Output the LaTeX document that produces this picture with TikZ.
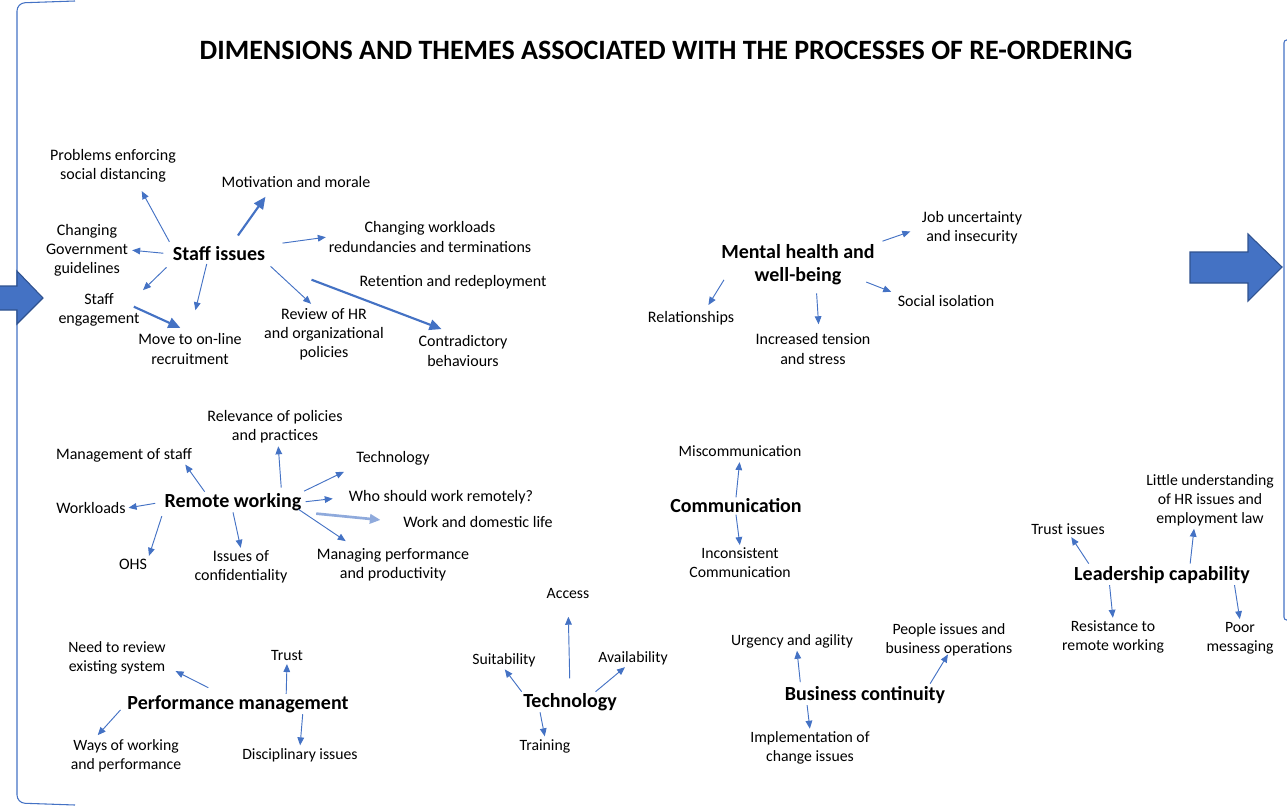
\documentclass[tikz,border=0pt]{standalone}
\usepackage{fontspec}
\setmainfont{Carlito}
\usetikzlibrary{arrows.meta}
\definecolor{officeblue}{RGB}{68,114,196}
\definecolor{darkblue}{RGB}{47,82,143}
\definecolor{paleblue}{RGB}{143,170,220}

\begin{document}
\begin{tikzpicture}[x=0.75pt,y=-0.75pt,
  theme/.style={font=\fontsize{15}{17}\selectfont\bfseries, align=center, inner sep=1pt},
  item/.style={font=\fontsize{12}{14.3}\selectfont, align=center, inner sep=1pt},
  minor/.style={font=\fontsize{11.8}{14.3}\selectfont, align=center, inner sep=1pt},
  link/.style={draw=paleblue, line width=0.7pt, -{Triangle[length=6pt,width=5pt]}, officeblue},
  biglink/.style={draw=officeblue, line width=1.6pt, -{Triangle[length=9pt,width=8pt]}},
  blockarrow/.style={fill=officeblue, draw=darkblue, line width=0.8pt},
  bracket/.style={draw=officeblue, line width=0.8pt, rounded corners=6pt}]

\useasboundingbox (0,0) rectangle (1287,806);

% outer brackets and block arrows
\draw[bracket] (75,1) -- (17,3) -- (17,803) -- (75,805);
\draw[bracket, rounded corners=2pt] (1287,40) -- (1284,40) -- (1284,620) -- (1287,620);
\draw[blockarrow] (-2,286) -- (17,286) -- (17,271) -- (43,298) -- (17,324) -- (17,310) -- (-2,310) -- cycle;
\draw[blockarrow] (1190,252) -- (1248,252) -- (1248,234) -- (1282,267) -- (1248,301) -- (1248,283) -- (1190,283) -- cycle;

\node[font=\fontsize{21}{24}\selectfont\bfseries] (title) at (666,50)
  {DIMENSIONS AND THEMES ASSOCIATED WITH THE PROCESSES OF RE-ORDERING};

% staff issues
\node[theme] (staff) at (219,254) {Staff issues};
\node[item] (probl) at (113,166) {Problems enforcing\\social distancing};
\node[item] (motiv) at (296,182) {Motivation and morale};
\node[item] (gov) at (87,250) {Changing\\Government\\guidelines};
\node[item] (workl) at (430,237) {Changing workloads\\redundancies and terminations};
\node[item] (reten) at (453,282) {Retention and redeployment};
\node[item] (engag) at (99,310) {Staff\\engagement};
\node[item] (move) at (190,349) {Move to on-line\\recruitment};
\node[item] (review) at (324,334) {Review of HR\\and organizational\\policies};
\node[item] (contra) at (463,351) {Contradictory\\behaviours};

\draw[link, shorten <=3pt, shorten >=6pt] (staff.north west) -- (probl.-36);
\draw[biglink, shorten <=9pt, shorten >=7pt] (staff.36) -- (motiv.196);
\draw[link, shorten <=6pt, shorten >=2pt] (staff.west) -- (gov.east);
\draw[link, shorten <=12pt, shorten >=1pt] (staff.north east) -- (workl.west);
\draw[link, shorten <=5pt, shorten >=2pt] (staff.south west) -- (engag.north east);
\draw[link, shorten <=1pt, shorten >=17pt] (staff.216) -- (move.north);
\draw[link, shorten <=4pt, shorten >=3pt] (staff.south east) -- (review.110);
\draw[biglink, shorten <=36pt, shorten >=11pt] (staff.south east) -- (contra.115);
\draw[biglink, shorten <=-6pt, shorten >=8pt] (engag.east) -- (move.north);

% mental health
\node[theme] (mind) at (798,265) {Mental health and\\well-being};
\node[item] (job) at (972,228) {Job uncertainty\\and insecurity};
\node[item] (relat) at (691,318) {Relationships};
\node[item] (isol) at (946,301) {Social isolation};
\node[item] (tens) at (813,349) {Increased tension\\and stress};

\draw[link, shorten <=5pt, shorten >=8pt] (mind.north east) -- (job.west);
\draw[link, shorten <=-6pt, shorten >=4pt] (mind.south west) -- (relat.30);
\draw[link, shorten <=5pt, shorten >=6pt] (mind.-50) -- (tens.70);
\draw[link, shorten <=-8pt, shorten >=4pt] (mind.-15) -- (isol.north west);

% remote working
\node[theme] (remote) at (233,502) {Remote working};
\node[item] (relev) at (275,427) {Relevance of policies\\and practices};
\node[item] (mgmt) at (124,455) {Management of staff};
\node[item] (techno) at (393,458) {Technology};
\node[item] (wload) at (91,508) {Workloads};
\node[item] (who) at (441,497) {Who should work remotely?};
\node[item] (domes) at (478,522) {Work and domestic life};
\node[item] (ohs) at (133,564) {OHS};
\node[item] (conf) at (241,567) {Issues of\\confidentiality};
\node[item] (prod) at (393,565) {Managing performance\\and productivity};

\draw[link, shorten >=1pt] (remote.160) -- (mgmt.-8);
\draw[link, shorten <=3pt, shorten >=1pt] (remote.12) -- (relev.-80);
\draw[link, shorten <=1pt, shorten >=9pt] (remote.north east) -- (techno.south west);
\draw[link, shorten <=2pt, shorten >=11pt] (remote.east) -- (who.west);
\draw[paleblue, line width=2pt, -{Triangle[length=8pt,width=7pt]}, shorten <=10pt, shorten >=16pt] (remote.south east) -- (domes.west);
\draw[link, shorten <=-4pt, shorten >=8pt] (remote.south east) -- (prod.155);
\draw[link, shorten >=1pt] (remote.south) -- (conf.north);
\draw[link, shorten <=3pt, shorten >=1pt] (remote.south west) -- (ohs.north east);
\draw[link, shorten <=6pt, shorten >=1pt] (remote.west) -- (wload.east);

% communication
\node[theme] (comm) at (736,506) {Communication};
\node[minor] (miscomm) at (740,451) {Miscommunication};
\node[minor] (incons) at (740,563) {Inconsistent\\Communication};

\draw[link, shorten >=3pt] (comm.north) -- (miscomm.south);
\draw[link, shorten >=1pt] (comm.south) -- (incons.north);

% leadership
\node[theme] (lead) at (1162,575) {Leadership capability};
\node[minor] (trusti) at (1068,529) {Trust issues};
\node[minor] (little) at (1210,500) {Little understanding\\of HR issues and\\employment law};
\node[minor] (resist) at (1113,637) {Resistance to\\remote working};
\node[minor] (poor) at (1240,638) {Poor\\messaging};

\draw[link, shorten <=1pt, shorten >=1pt] (lead.172) -- (trusti.-70);
\draw[link, shorten <=1pt, shorten >=1pt] (lead.20) -- (little.-120);
\draw[link, shorten >=1pt] (lead.191) -- (resist.north);
\draw[link, shorten >=1pt] (lead.-8) -- (poor.north);

% business continuity
\node[theme] (busin) at (865,695) {Business continuity};
\node[minor] (urgent) at (792,641) {Urgency and agility};
\node[minor] (people) at (949,640) {People issues and\\business operations};
\node[minor] (implem) at (810,748) {Implementation of\\change issues};

\draw[link, shorten <=2pt, shorten >=1pt] (busin.171) -- (urgent.-60);
\draw[link, shorten <=1pt, shorten >=-3pt] (busin.9) -- (people.-100);
\draw[link, shorten >=1pt] (busin.190) -- (implem.north);

% technology
\node[theme] (tech) at (570,702) {Technology};
\node[minor] (access) at (568,594) {Access};
\node[minor] (suit) at (504,660) {Suitability};
\node[minor] (avail) at (633,658) {Availability};
\node[minor] (train) at (545,746) {Training};

\draw[link, shorten <=10pt, shorten >=12pt] (tech.north) -- (access.south);
\draw[link, shorten >=1pt] (tech.north west) -- (suit.south);
\draw[link, shorten >=1pt] (tech.22) -- (avail.-130);
\draw[link, shorten >=1pt] (tech.199) -- (train.north);

% performance management
\node[theme] (perf) at (238,704) {Performance management};
\node[minor] (need) at (117,658) {Need to review\\existing system};
\node[minor] (trust) at (287,656) {Trust};
\node[minor] (ways) at (126,756) {Ways of working\\and performance};
\node[minor] (discip) at (300,755) {Disciplinary issues};

\draw[link, shorten <=10pt, shorten >=7pt] (perf.150) -- (need.-10);
\draw[link, shorten >=1pt] (perf.12) -- (trust.south);
\draw[link, shorten <=6pt, shorten >=3pt] (perf.west) -- (ways.150);
\draw[link, shorten >=1pt] (perf.-9) -- (discip.north);
\end{tikzpicture}
\end{document}
